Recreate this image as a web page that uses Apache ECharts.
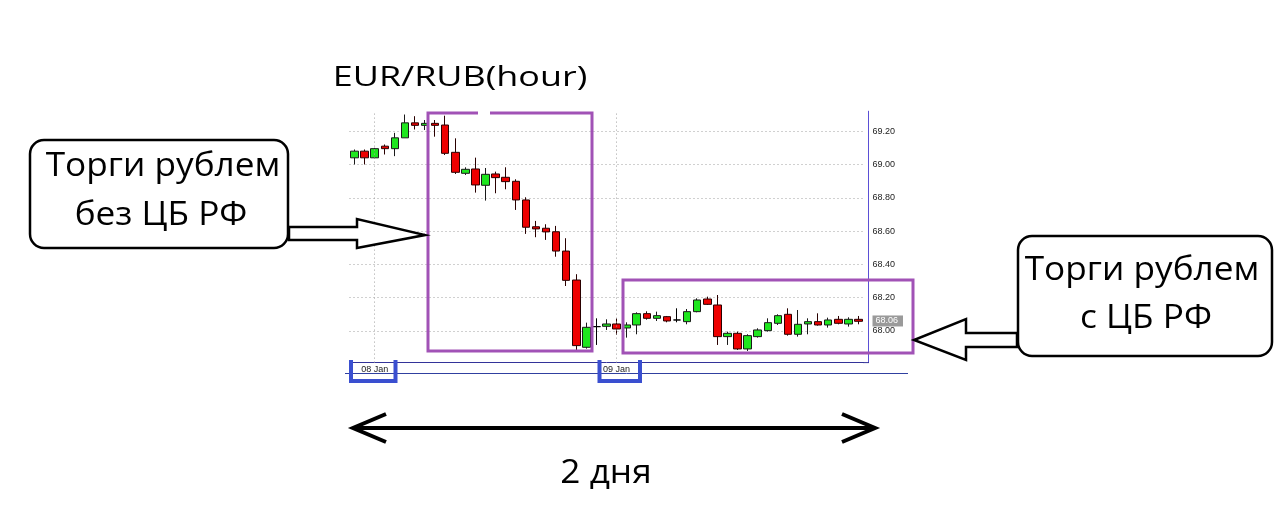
<!DOCTYPE html>
<html><head><meta charset="utf-8">
<script src="https://cdn.jsdelivr.net/npm/echarts@6/dist/echarts.min.js"></script>
<style>html,body{margin:0;padding:0;background:#fff}#c{width:1280px;height:517px}</style>
</head><body><div id="c"></div>
<script>
const categories = [
 '07 Jan 22:00','07 Jan 23:00',
 '08 Jan 00:00','08 Jan 01:00','08 Jan 02:00','08 Jan 03:00','08 Jan 04:00','08 Jan 05:00','08 Jan 06:00','08 Jan 07:00',
 '08 Jan 08:00','08 Jan 09:00','08 Jan 10:00','08 Jan 11:00','08 Jan 12:00','08 Jan 13:00','08 Jan 14:00','08 Jan 15:00',
 '08 Jan 16:00','08 Jan 17:00','08 Jan 18:00','08 Jan 19:00','08 Jan 20:00','08 Jan 21:00','08 Jan 22:00','08 Jan 23:00',
 '09 Jan 00:00','09 Jan 01:00','09 Jan 02:00','09 Jan 03:00','09 Jan 04:00','09 Jan 05:00','09 Jan 06:00','09 Jan 07:00',
 '09 Jan 08:00','09 Jan 09:00','09 Jan 10:00','09 Jan 11:00','09 Jan 12:00','09 Jan 13:00','09 Jan 14:00','09 Jan 15:00',
 '09 Jan 16:00','09 Jan 17:00','09 Jan 18:00','09 Jan 19:00','09 Jan 20:00','09 Jan 21:00','09 Jan 22:00','09 Jan 23:00',
 '10 Jan 00:00'
];
const opens = [
 69.04,69.08,69.04,69.11,69.095,69.16,69.25,69.235,69.247,69.237,
 69.073,68.947,68.973,68.875,68.943,68.923,68.899,68.787,68.626,68.617,
 68.596,68.48,68.306,67.902,68.026,68.028,68.042,68.018,68.036,68.104,
 68.076,68.086,68.066,68.056,68.116,68.192,68.156,67.966,67.986,67.892,
 67.966,68.002,68.046,68.10,67.98,68.042,68.056,68.036,68.07,68.042,68.07
];
const closes = [
 69.08,69.04,69.095,69.095,69.16,69.25,69.235,69.247,69.235,69.067,
 68.953,68.971,68.877,68.941,68.921,68.897,68.787,68.623,68.613,68.595,
 68.48,68.304,67.912,68.022,68.026,68.042,68.012,68.036,68.104,68.076,
 68.092,68.06,68.066,68.116,68.186,68.16,67.966,67.986,67.892,67.972,
 68.006,68.05,68.092,67.98,68.04,68.056,68.036,68.066,68.046,68.07,68.058
];
const lows = [
 69.00,69.00,69.037,69.06,69.05,69.16,69.21,69.207,69.167,69.057,
 68.943,68.937,68.831,68.783,68.827,68.851,68.727,68.583,68.563,68.547,
 68.446,68.27,67.886,67.894,67.916,68.006,67.976,67.96,67.98,68.068,
 68.06,68.052,68.052,68.04,68.112,68.156,67.916,67.916,67.886,67.88,
 67.96,67.996,68.036,67.972,67.966,67.98,68.032,68.02,68.04,68.026,68.04
];
const highs = [
 69.09,69.09,69.10,69.12,69.19,69.30,69.29,69.267,69.267,69.293,
 69.157,68.983,69.041,68.979,68.957,68.983,68.911,68.803,68.661,68.641,
 68.631,68.557,68.341,68.05,68.076,68.07,68.076,68.052,68.112,68.118,
 68.116,68.09,68.136,68.132,68.196,68.206,68.216,67.996,67.996,67.98,
 68.016,68.076,68.10,68.136,68.126,68.076,68.106,68.08,68.09,68.082,68.09
];
const dateMarks = ['08 Jan 00:00', '09 Jan 00:00'];
const lastPrice = 68.06;
const titleText = 'EUR/RUB(hour)';
const leftNote = ['Торги рублем', 'без ЦБ РФ'];
const rightNote = ['Торги рублем', 'с ЦБ РФ'];
const spanText = '2 дня';

const candleData = categories.map((c, i) => [opens[i], closes[i], lows[i], highs[i]]);

const chart = echarts.init(document.getElementById('c'), null, {renderer: 'canvas'});
const PURPLE = '#a152b6';
const BLUE = '#3a4fd0';
const txt = (x, y, text, size, sx) => ({
  type: 'text', x, y, scaleX: sx, z: 110,
  style: {text, font: size + 'px "Open Sans", sans-serif', fill: '#000', textAlign: 'center', textVerticalAlign: 'middle'}
});

chart.setOption({
  animation: false,
  grid: {left: 349.5, right: 416.5, top: 111.2, bottom: 154.4, outerBoundsMode: 'none'},
  xAxis: {
    type: 'category', data: categories, boundaryGap: true,
    axisLine: {lineStyle: {color: '#333399', width: 1}},
    axisTick: {show: false},
    axisLabel: {
      interval: (i) => i === 2 || i === 26,
      formatter: (v) => v.slice(0, 6),
      fontSize: 9, color: '#222', margin: 2, fontFamily: '"Liberation Sans", Arial'
    },
    splitLine: {show: false}
  },
  yAxis: {
    type: 'value', position: 'right', offset: 5,
    min: 67.81, max: 69.32, splitNumber: 7,
    axisLine: {show: true, lineStyle: {color: '#5b4fd6', width: 1}},
    axisTick: {show: false},
    axisLabel: {
      margin: 4, fontSize: 9, color: '#222', fontFamily: '"Liberation Sans", Arial',
      showMinLabel: false, showMaxLabel: false,
      formatter: (v) => Math.abs(v * 5 - Math.round(v * 5)) < 1e-6 ? v.toFixed(2) : ''
    },
    splitLine: {show: true, showMinLine: false, showMaxLine: false, lineStyle: {color: '#a0a0a0', type: [1, 3], width: 1}}
  },
  series: [{
    type: 'candlestick', data: candleData, barWidth: 8, clip: false,
    itemStyle: {
      color: '#1ee61e', color0: '#ee0000',
      borderColor: '#1a1a1a', borderColor0: '#2a0000', borderColorDoji: '#000', borderWidth: 1
    },
    markLine: {
      symbol: 'none', silent: true, animation: false,
      data: [
        {xAxis: dateMarks[0], lineStyle: {color: '#a0a0a0', type: [1, 3], width: 1}, label: {show: false}},
        {xAxis: dateMarks[1], lineStyle: {color: '#a0a0a0', type: [1, 3], width: 1}, label: {show: false}},
        {yAxis: lastPrice, lineStyle: {color: 'rgba(0,0,0,0)', width: 0}, label: {
          show: true, position: 'end', distance: 9, formatter: lastPrice.toFixed(2),
          backgroundColor: '#9a9a9a', color: '#fff', fontSize: 9, padding: [1, 5, 1, 3],
          fontFamily: '"Liberation Sans", Arial'
        }}
      ]
    }
  }],
  graphic: [
    {type: 'line', z: 90, shape: {x1: 863, y1: 362.6, x2: 869, y2: 362.6}, style: {stroke: '#333399', lineWidth: 1}},
    {type: 'line', z: 90, shape: {x1: 345, y1: 373.5, x2: 908, y2: 373.5}, style: {stroke: '#3040a0', lineWidth: 1}},
    {type: 'rect', z: 100, shape: {x: 428, y: 113, width: 164, height: 238}, style: {fill: 'none', stroke: PURPLE, lineWidth: 3}},
    {type: 'rect', z: 101, shape: {x: 478, y: 108, width: 12, height: 9}, style: {fill: '#fff'}},
    {type: 'rect', z: 100, shape: {x: 623, y: 280, width: 290, height: 73}, style: {fill: 'none', stroke: PURPLE, lineWidth: 3}},
    {type: 'polyline', z: 100, shape: {points: [[351, 360], [351, 381], [395.5, 381], [395.5, 360]]}, style: {fill: 'none', stroke: BLUE, lineWidth: 4}},
    {type: 'polyline', z: 100, shape: {points: [[599.5, 360], [599.5, 381], [640, 381], [640, 360]]}, style: {fill: 'none', stroke: BLUE, lineWidth: 4}},
    {type: 'rect', z: 100, shape: {x: 30, y: 140, width: 258, height: 108, r: 14}, style: {fill: '#fff', stroke: '#000', lineWidth: 2.5}},
    {type: 'polygon', z: 100, shape: {points: [[289, 227], [357, 227], [357, 219], [425, 235], [357, 248], [357, 240], [289, 240]]}, style: {fill: '#fff', stroke: '#000', lineWidth: 2.5}},
    txt(163, 167, leftNote[0], 32, 1.1),
    txt(161, 216, leftNote[1], 32, 1.1),
    {type: 'rect', z: 100, shape: {x: 1018, y: 236, width: 254, height: 120, r: 14}, style: {fill: '#fff', stroke: '#000', lineWidth: 2.5}},
    {type: 'polygon', z: 100, shape: {points: [[1017, 333], [966, 333], [966, 319], [914, 340], [966, 360], [966, 347], [1017, 347]]}, style: {fill: '#fff', stroke: '#000', lineWidth: 2.5}},
    txt(1142, 271, rightNote[0], 32, 1.1),
    txt(1146, 319, rightNote[1], 32, 1.1),
    txt(460, 78, titleText, 27, 1.33),
    {type: 'line', z: 100, shape: {x1: 353, y1: 428, x2: 875, y2: 428}, style: {stroke: '#000', lineWidth: 4}},
    {type: 'polyline', z: 100, shape: {points: [[386, 414], [353, 428], [386, 442]]}, style: {fill: 'none', stroke: '#000', lineWidth: 4}},
    {type: 'polyline', z: 100, shape: {points: [[842, 414], [875, 428], [842, 442]]}, style: {fill: 'none', stroke: '#000', lineWidth: 4}},
    txt(606, 474, spanText, 32, 1.1)
  ]
});
</script>
</body></html>
